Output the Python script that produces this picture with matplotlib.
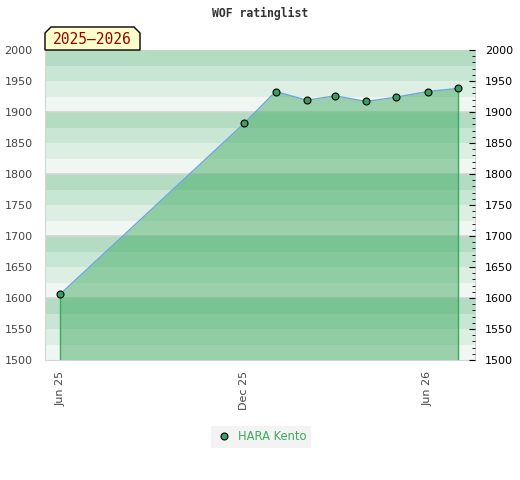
import matplotlib
matplotlib.use("Agg")
import matplotlib.pyplot as plt
import matplotlib.dates as mdates
from matplotlib.patches import Polygon
import datetime as dt

# data: monthly WOF ratinglist
dates = [dt.date(2025, 6, 1), dt.date(2025, 12, 1), dt.date(2026, 1, 1), dt.date(2026, 2, 1),
         dt.date(2026, 3, 1), dt.date(2026, 4, 1), dt.date(2026, 5, 1), dt.date(2026, 6, 1),
         dt.date(2026, 7, 1)]
rating = [1606, 1882, 1933, 1919, 1926, 1917, 1924, 1933, 1938]
tick_dates = [dt.date(2025, 6, 1), dt.date(2025, 12, 1), dt.date(2026, 6, 1)]
tick_labels = ["Jun 25", "Dec 25", "Jun 26"]
player = "HARA Kento"
season = "2025\u20132026"

green = "#3da95e"
band_cols = ["#f0f7f2", "#ddeee3", "#c8e6d4", "#b3dcc3"]  # bottom -> top within each 100

fig = plt.figure(figsize=(5.2, 4.8), dpi=100)
ax = fig.add_axes([45/520, 1-360/480, 430/520, 310/480])

# striped background
for lo in range(1500, 2000, 25):
    ax.axhspan(lo, lo+25, color=band_cols[(lo % 100)//25], lw=0, zorder=0)
for y in range(1600, 2000, 100):
    ax.axhline(y, color="#d4d4d4", lw=1.2, zorder=1)

x = mdates.date2num(dates)
ax.fill_between(x, rating, 1500, color=green, alpha=0.48, lw=0, zorder=2)
ax.vlines([x[0], x[-1]], 1500, [rating[0], rating[-1]], color=green, lw=1, zorder=3)
ax.plot(x, rating, color="#6aa6d9", lw=1, zorder=4)
ax.plot(x, rating, ls="none", marker="o", ms=5, mfc="#3a9e5c", mec="black", mew=0.8, zorder=5)

ax.set_xlim(mdates.date2num(dt.date(2025, 5, 17)), mdates.date2num(dt.date(2026, 7, 18)))
ax.set_ylim(1500, 2000)
ax.set_xticks(mdates.date2num(tick_dates))
ax.set_xticklabels(tick_labels, rotation=90, fontsize=8, color="#444444")
ax.tick_params(axis="x", length=0, pad=8)
ax.set_yticks(range(1500, 2001, 50))
ax.tick_params(axis="y", length=0, labelsize=8, labelcolor="#444444", pad=9)
for s in ["left", "bottom", "right"]:
    ax.spines[s].set_color("#d4d4d4")
ax.spines["top"].set_visible(False)

# right axis with minor ticks
ax2 = ax.twinx()
ax2.set_ylim(1500, 2000)
ax2.set_yticks(range(1500, 2001, 50))
ax2.set_yticks(range(1500, 2001, 10), minor=True)
ax2.tick_params(axis="y", which="major", direction="in", length=4, labelsize=8, pad=7)
ax2.tick_params(axis="y", which="minor", direction="in", length=2.5)
for s in ax2.spines.values():
    s.set_visible(False)

fig.text(0.5, 1-13/480, "WOF ratinglist", ha="center", va="center",
         family="DejaVu Sans Mono", weight="bold", fontsize=8.3, color="#333333")

# season label box
px = [(45, 50), (45, 33), (51, 27), (134, 27), (140, 33), (140, 50)]
poly = Polygon([(a/520, 1-b/480) for a, b in px], closed=True, transform=fig.transFigure,
               facecolor="#ffffcc", edgecolor="black", lw=1)
fig.patches.append(poly)
fig.text(92.5/520, 1-39.5/480, season, ha="center", va="center",
         family="DejaVu Sans Mono", fontsize=10.5, color="#990000")

h, = ax.plot([], [], ls="none", marker="o", ms=5, mfc="#3a9e5c", mec="black", mew=0.8)
leg = fig.legend([h], [player], loc="center", bbox_to_anchor=(261/520, 1-437/480),
                 frameon=True, fontsize=8.3, handletextpad=0.5, borderpad=0.35,
                 borderaxespad=0, fancybox=False, handlelength=1.5)
leg.get_frame().set_facecolor("#f0f0f0")
leg.get_frame().set_edgecolor("none")
for t in leg.get_texts():
    t.set_color("#3da95e")

fig.savefig("out.png", dpi=100)
